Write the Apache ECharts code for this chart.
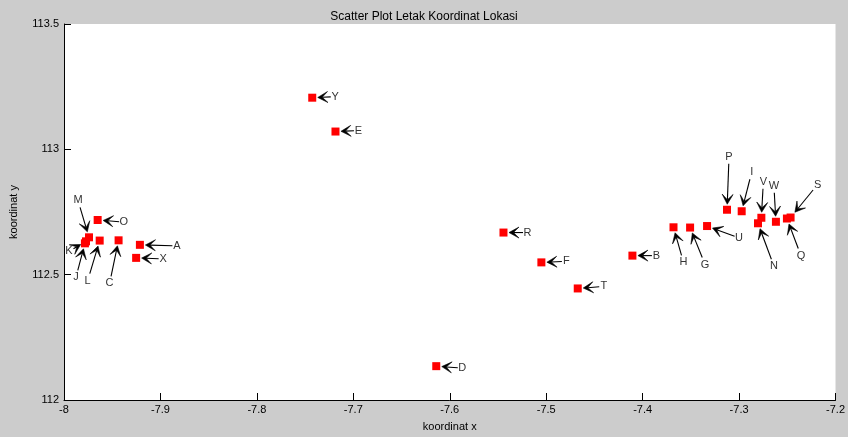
<!DOCTYPE html>
<html>
<head>
<meta charset="utf-8">
<script src="https://cdn.jsdelivr.net/npm/echarts@6/dist/echarts.min.js"></script>
<style>
  html, body { margin: 0; padding: 0; background: #cccccc; }
  #chart { width: 848px; height: 437px; }
</style>
</head>
<body>
<div id="chart"></div>
<script>
// Location names and their coordinates
const names = ['A','B','C','D','E','F','G','H','I','J','K','L','M','N','O','P','Q','R','S','T','U','V','W','X','Y'];
const coordX = [-7.9213, -7.4106, -7.9434, -7.6140, -7.7185, -7.5050, -7.3508, -7.3680, -7.2973, -7.9783,
                -7.9772, -7.9630, -7.9741, -7.2804, -7.9651, -7.3125, -7.2504, -7.5443, -7.2466, -7.4673,
                -7.3332, -7.2769, -7.2618, -7.9252, -7.7426];
const coordY = [112.619, 112.576, 112.637, 112.135, 113.071, 112.549, 112.688, 112.689, 112.753, 112.625,
                112.633, 112.636, 112.649, 112.705, 112.718, 112.759, 112.724, 112.668, 112.728, 112.445,
                112.694, 112.727, 112.711, 112.567, 113.206];

// Axis ticks
const xTicks = [-8, -7.9, -7.8, -7.7, -7.6, -7.5, -7.4, -7.3, -7.2];
const yTicks = [112, 112.5, 113, 113.5];

// Pixel offset of each callout text from its marker (layout only)
const calloutOffsets = [
  [37, 1], [24, 0], [-9, 43], [26, 2], [23, -1], [25, -1], [15, 37], [10, 35], [10, -39], [-9, 34],
  [-17, 10], [-12, 40], [-11, -37], [16, 43], [26, 2], [2, -53], [14, 37], [24, 0], [27, -33], [26, -2],
  [32, 12], [2, -36], [-2, -36], [27, 1], [23, -1]
];

const points = names.map((n, i) => [coordX[i], coordY[i], n]);

const FONT = '"Liberation Sans", Arial, sans-serif';

// Callout: text, a thin shaft and a swept-back filled head pointing at the marker
function arrowItem(params, api) {
  const i = params.dataIndex;
  const p = api.coord([api.value(0), api.value(1)]);
  const off = calloutOffsets[i];
  const t = [p[0] + off[0], p[1] + off[1]];
  const dx = p[0] - t[0], dy = p[1] - t[1];
  const len = Math.sqrt(dx * dx + dy * dy);
  const ux = dx / len, uy = dy / len;
  // start just outside the text box
  const gTail = Math.min(4.5 / Math.max(Math.abs(ux), 1e-6), 7 / Math.max(Math.abs(uy), 1e-6));
  const tail = [t[0] + ux * gTail, t[1] + uy * gTail];
  // stop at the marker edge
  const gTip = 4.5 / Math.max(Math.abs(ux), Math.abs(uy)) + 1;
  const tip = [p[0] - ux * gTip, p[1] - uy * gTip];
  const nx = -uy, ny = ux;
  const hl = 10, hw = 5.5, notch = 4.5;
  const head = [
    tip,
    [tip[0] - ux * hl + nx * hw, tip[1] - uy * hl + ny * hw],
    [tip[0] - ux * notch, tip[1] - uy * notch],
    [tip[0] - ux * hl - nx * hw, tip[1] - uy * hl - ny * hw]
  ];
  return {
    type: 'group',
    children: [
      {
        type: 'line',
        shape: { x1: tail[0], y1: tail[1], x2: tip[0] - ux * notch, y2: tip[1] - uy * notch },
        style: { stroke: '#000', lineWidth: 1.1 }
      },
      {
        type: 'polygon',
        shape: { points: head },
        style: { fill: '#000', stroke: '#000', lineWidth: 0.6, lineJoin: 'round' }
      },
      {
        type: 'text',
        x: t[0], y: t[1],
        style: {
          text: api.value(2),
          fill: '#333',
          font: '11px ' + FONT,
          align: 'center',
          verticalAlign: 'middle'
        }
      }
    ]
  };
}

const chart = echarts.init(document.getElementById('chart'), null, { renderer: 'canvas' });

const fmt = v => String(Number(v.toFixed(1)));

chart.setOption({
  backgroundColor: '#cccccc',
  animation: false,
  title: {
    text: 'Scatter Plot Letak Koordinat Lokasi',
    left: 'center',
    top: 6,
    textStyle: { fontFamily: FONT, fontSize: 12, fontWeight: 'normal', color: '#000' }
  },
  grid: {
    left: 63, right: 12, top: 24, bottom: 34,
    show: true, backgroundColor: '#ffffff', borderWidth: 0
  },
  xAxis: {
    type: 'value',
    min: xTicks[0], max: xTicks[xTicks.length - 1], interval: 0.1,
    name: 'koordinat x', nameLocation: 'middle', nameGap: 21,
    nameTextStyle: { fontFamily: FONT, fontSize: 11, color: '#000' },
    axisLine: { onZero: false, lineStyle: { color: '#000', width: 1 } },
    axisTick: { inside: true, length: 7, lineStyle: { color: '#000' } },
    axisLabel: { formatter: fmt, fontFamily: FONT, fontSize: 11, color: '#000', margin: 4 },
    splitLine: { show: false }
  },
  yAxis: {
    type: 'value',
    min: yTicks[0], max: yTicks[yTicks.length - 1], interval: 0.5,
    name: 'koordinat y', nameLocation: 'middle', nameGap: 45, nameRotate: 90,
    nameTextStyle: { fontFamily: FONT, fontSize: 11, color: '#000' },
    axisLine: { show: true, onZero: false, lineStyle: { color: '#000', width: 1 } },
    axisTick: { show: true, inside: true, length: 7, lineStyle: { color: '#000' } },
    axisLabel: { formatter: fmt, fontFamily: FONT, fontSize: 11, color: '#000', margin: 5 },
    splitLine: { show: false }
  },
  series: [
    {
      type: 'custom',
      data: points,
      encode: { x: 0, y: 1 },
      renderItem: arrowItem,
      clip: false,
      z: 3,
      silent: true
    },
    {
      type: 'scatter',
      data: points,
      symbol: 'rect',
      symbolSize: 8,
      itemStyle: { color: '#ff0000', opacity: 1 },
      z: 2
    }
  ]
});
</script>
</body>
</html>
